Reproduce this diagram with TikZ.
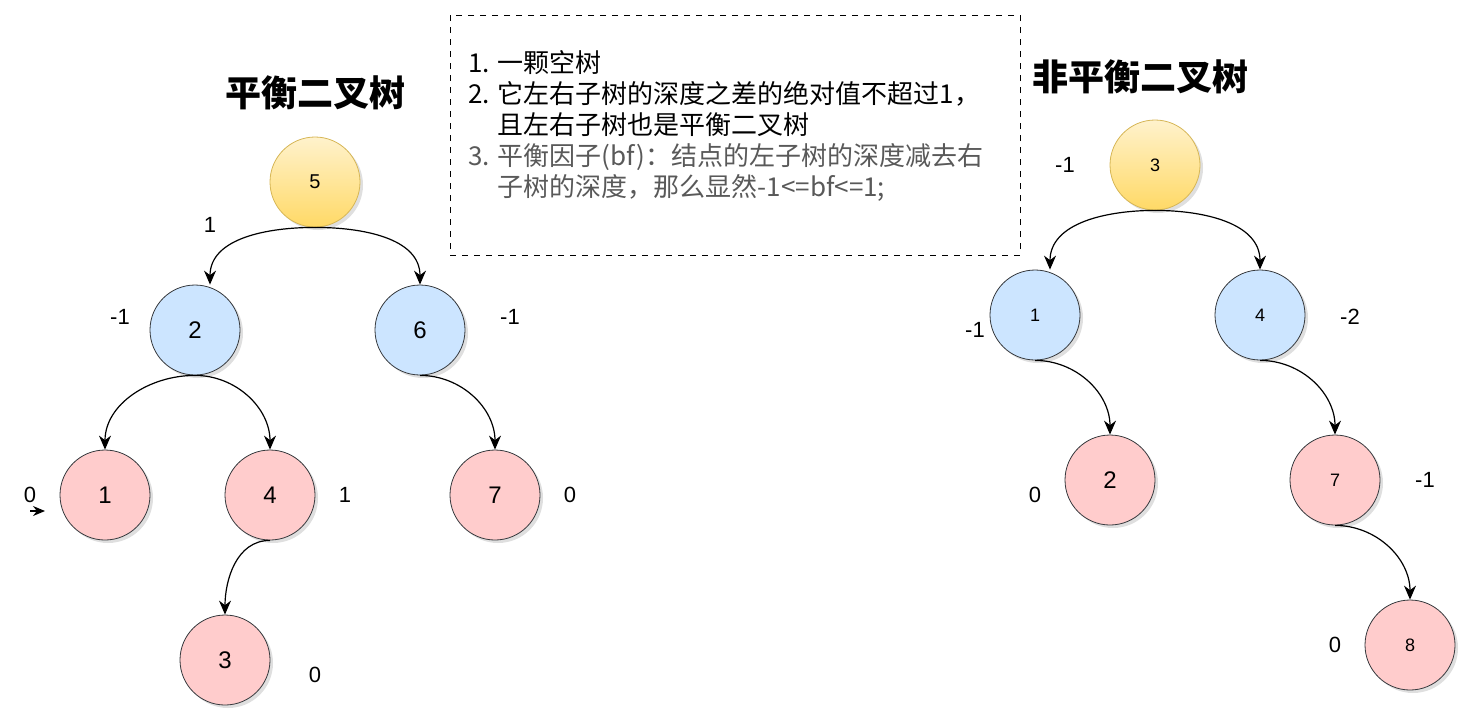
\documentclass[tikz,border=0pt]{standalone}
\usepackage{fontspec}
\setmainfont{Liberation Sans}
\newfontfamily\cjk{Noto Sans CJK SC}
\usetikzlibrary{arrows.meta,shadows}
\definecolor{yb}{HTML}{FFF2CC}\definecolor{ye}{HTML}{FFD966}\definecolor{ys}{HTML}{D6B656}
\definecolor{bf}{HTML}{CCE5FF}\definecolor{rf}{HTML}{FFCCCC}\definecolor{ns}{HTML}{36393D}
\begin{document}
\begin{tikzpicture}[x=0.5pt,y=-0.5pt,
 nd/.style={circle,minimum size=45pt,inner sep=0pt,font=\fontsize{12}{14}\selectfont,drop shadow={shadow xshift=1.5pt,shadow yshift=-1.5pt,opacity=0.25}},
 nds/.style={nd,font=\fontsize{9}{11}\selectfont},
 yel/.style={draw=ys,top color=yb,bottom color=ye},
 blu/.style={draw=ns,fill=bf},
 red/.style={draw=ns,fill=rf},
 lb/.style={font=\fontsize{11}{13}\selectfont},
 ar/.style={-{Stealth[length=7pt,width=6pt]},line width=0.6pt},
 ttl/.style={font=\cjk\bfseries\fontsize{18}{20}\selectfont}]
\useasboundingbox (0,0) rectangle (1461,714);
\node[nd,yel,font=\fontsize{10}{12}\selectfont] (a5) at (315,182) {5};
\node[nd,blu] (a2) at (195,330) {2};
\node[nd,blu] (a6) at (420,330) {6};
\node[nd,red] (a1) at (105,495) {1};
\node[nd,red] (a4) at (270,495) {4};
\node[nd,red] (a7) at (495,495) {7};
\node[nd,red] (a3) at (225,660) {3};
\draw[ar] (a5.south) to[out=180,in=90] ([xshift=7.5pt]a2.north);
\draw[ar] (a5.south) to[out=0,in=90] (a6.north);
\draw[ar] (a2.south) to[out=180,in=90] (a1.north);
\draw[ar] (a2.south) to[out=0,in=90] (a4.north);
\draw[ar] (a6.south) to[out=0,in=90] (a7.north);
\draw[ar] (a4.south) to[out=180,in=90] (a3.north);
\node[lb] (l1) at (210,225) {1};
\node[lb] (l2) at (120,317) {-1};
\node[lb] (l3) at (510,317) {-1};
\node[lb] (l4) at (30,495) {0};
\node[lb] (l5) at (345,495) {1};
\node[lb] (l6) at (570,495) {0};
\node[lb] (l7) at (315,675) {0};
\coordinate (s0) at (30,511); \coordinate (s1) at (45,511);
\draw[-{Stealth[length=6pt,width=5pt]},line width=0.6pt] (s0) -- (s1);
\node[ttl] (t1) at (315,93) {平衡二叉树};
\node[ttl] (t2) at (1140,77) {非平衡二叉树};
\node[nds,yel] (b3) at (1155,165) {3};
\node[nds,blu] (b1) at (1035,315) {1};
\node[nds,blu] (b4) at (1260,315) {4};
\node[nd,red] (b2) at (1110,480) {2};
\node[nds,red] (b7) at (1335,480) {7};
\node[nds,red] (b8) at (1410,645) {8};
\draw[ar] (b3.south) to[out=180,in=90] ([xshift=7.5pt]b1.north);
\draw[ar] (b3.south) to[out=0,in=90] (b4.north);
\draw[ar] (b1.south) to[out=0,in=90] (b2.north);
\draw[ar] (b4.south) to[out=0,in=90] (b7.north);
\draw[ar] (b7.south) to[out=0,in=90] (b8.north);
\node[lb] (m1) at (1065,165) {-1};
\node[lb] (m2) at (975,330) {-1};
\node[lb] (m3) at (1350,317) {-2};
\node[lb] (m4) at (1035,495) {0};
\node[lb] (m5) at (1425,480) {-1};
\node[lb] (m6) at (1335,645) {0};
\draw[dashed,line width=0.5pt] (450,15) rectangle (1020,255);
\node[anchor=north west,align=left,inner sep=0pt,font=\cjk\fontsize{13}{15.5}\selectfont] (box) at (468,50) {%
1. 一颗空树\\
2. 它左右子树的深度之差的绝对值不超过1，\\
\hphantom{2. }且左右子树也是平衡二叉树\\
\textcolor{black!65}{3. 平衡因子(bf)：结点的左子树的深度减去右}\\
\textcolor{black!65}{\hphantom{3. }子树的深度，那么显然-1<=bf<=1;}};
\end{tikzpicture}
\end{document}
